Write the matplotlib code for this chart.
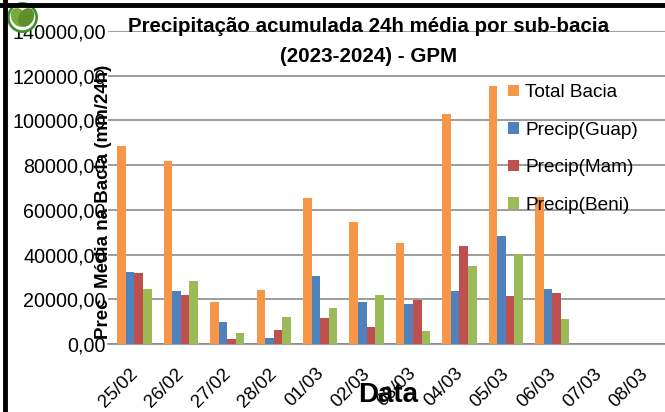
import matplotlib
matplotlib.use("Agg")
import matplotlib.pyplot as plt
import matplotlib.transforms as mtransforms
import numpy as np
from matplotlib.lines import Line2D
from matplotlib.patches import Circle, Ellipse
from matplotlib.ticker import FuncFormatter

plt.rcParams['font.family'] = ['Liberation Sans', 'DejaVu Sans']

# data
datas = ['25/02', '26/02', '27/02', '28/02', '01/03', '02/03', '03/03',
         '04/03', '05/03', '06/03', '07/03', '08/03']
total_bacia = [88500, 81700, 18600, 24000, 65300, 54500, 45000, 102700, 115200, 65900, np.nan, np.nan]
precip_guap = [32300, 23500, 10000, 2800, 30400, 18900, 17700, 23800, 48100, 24400, np.nan, np.nan]
precip_mam = [31700, 21700, 2100, 6400, 11600, 7400, 19600, 43750, 21300, 22800, np.nan, np.nan]
precip_beni = [24400, 28400, 4900, 12000, 16200, 21700, 5800, 34800, 40300, 11200, np.nan, np.nan]

series = [('Total Bacia', total_bacia, '#F79646'),
          ('Precip(Guap)', precip_guap, '#4F81BD'),
          ('Precip(Mam)', precip_mam, '#C0504D'),
          ('Precip(Beni)', precip_beni, '#9BBB59')]

fig = plt.figure(figsize=(6.65, 4.12), dpi=100)
ax = fig.add_axes([108 / 665, 68 / 412, 557 / 665, 313 / 412])

x = np.arange(len(datas))
w = 0.185
for i, (nome, vals, cor) in enumerate(series):
    ax.bar(x + 0.07 + (i - 1.5) * w, vals, width=w, color=cor, label=nome, zorder=3)

ax.set_xlim(-0.5, len(datas) - 0.5)
ax.set_ylim(0, 140000)
ax.set_yticks(np.arange(0, 140001, 20000))
ax.yaxis.set_major_formatter(FuncFormatter(lambda v, p: f'{v:.2f}'.replace('.', ',')))
ax.yaxis.grid(True, color='#8c8c8c', linewidth=1.2, zorder=0)
for s in ['top', 'right', 'left']:
    ax.spines[s].set_visible(False)
ax.spines['bottom'].set_color('#8c8c8c')
ax.spines['bottom'].set_linewidth(1.2)
ax.tick_params(axis='y', length=0, labelsize=14.2, pad=1.5)
ax.tick_params(axis='x', length=0, labelsize=13.5, pad=0)
ax.set_xticks(x)
ax.set_xticklabels(datas, rotation=45, ha='right', va='center', rotation_mode='anchor')
desloc = mtransforms.ScaledTranslation(4 / 100, -27 / 100, fig.dpi_scale_trans)
for lbl in ax.get_xticklabels():
    lbl.set_transform(lbl.get_transform() + desloc)

ax.legend(loc='upper left', bbox_to_anchor=(0.705, 0.855), frameon=False,
          fontsize=13.7, handlelength=0.55, handleheight=0.55, handletextpad=0.35,
          labelspacing=1.08, borderaxespad=0)

fig.text(369 / 665, 1 - 27 / 412, 'Precipitação acumulada 24h média por sub-bacia',
         ha='center', va='center', fontsize=14.8, fontweight='bold')
fig.text(369 / 665, 1 - 57 / 412, '(2023-2024) - GPM',
         ha='center', va='center', fontsize=14.8, fontweight='bold')
fig.text(103 / 665, 1 - 202 / 412, 'Prec  Média na Bacia (mm/24h)', rotation=90,
         ha='center', va='center', fontsize=13.5, fontweight='bold')
fig.text(388 / 665, 1 - 395 / 412, 'Data', ha='center', va='center',
         fontsize=20, fontweight='bold')

# borda e logo
fig.add_artist(Line2D([0, 1], [1 - 5 / 412, 1 - 5 / 412], color='black', linewidth=3.5))
fig.add_artist(Line2D([5 / 665, 5 / 665], [0, 1], color='black', linewidth=3.5))
logo = fig.add_axes([7 / 665, 1 - 33 / 412, 31 / 665, 31 / 412])
logo.set_aspect('equal')
logo.axis('off')
logo.add_patch(Circle((0, 0), 1.0, color='#3d8f2f'))
logo.add_patch(Circle((0, 0), 0.82, color='white'))
logo.add_patch(Ellipse((-0.25, 0.0), 0.9, 1.25, angle=30, color='#7aa83a'))
logo.add_patch(Ellipse((0.25, 0.0), 0.9, 1.25, angle=-30, color='#5f8f2a'))
logo.set_xlim(-1.05, 1.05)
logo.set_ylim(-1.05, 1.05)

fig.savefig('out.png', dpi=100)
